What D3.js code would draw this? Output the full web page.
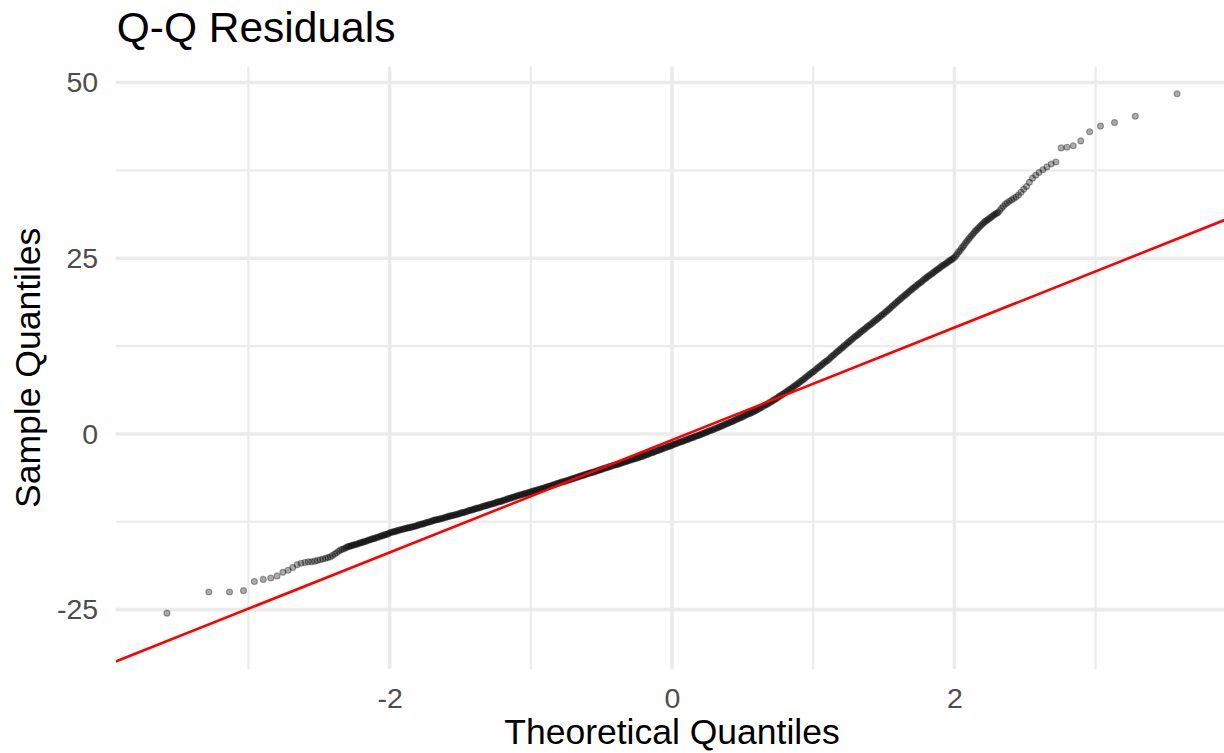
<!DOCTYPE html>
<html>
<head>
<meta charset="utf-8">
<script src="https://cdn.jsdelivr.net/npm/d3@7"></script>
<style>
  body { margin: 0; background: #ffffff; }
  svg { display: block; }
  text { font-family: "Liberation Sans", Arial, Helvetica, sans-serif; }
</style>
</head>
<body>
<svg id="chart" width="1224" height="753"></svg>
<script>
// Lower tail of the normal Q-Q plot: one entry per ordered residual
const lowerTailTheo = [-3.577,-3.281,-3.134,-3.035,-2.958,-2.895,-2.842,-2.797,-2.756,-2.719,
  -2.686,-2.655,-2.627,-2.600,-2.576,-2.553,-2.531,-2.511,-2.491,-2.472,
  -2.454,-2.437,-2.420,-2.405,-2.389,-2.375,-2.361,-2.347,-2.334,-2.321,-2.309];
const lowerTailSample = [-25.5,-22.5,-22.5,-22.3,-21.0,-20.7,-20.5,-20.2,-19.7,-19.4,
  -19.0,-18.6,-18.4,-18.3,-18.2,-18.2,-18.1,-18.0,-17.9,-17.8,
  -17.7,-17.6,-17.5,-17.3,-17.1,-16.9,-16.7,-16.5,-16.4,-16.3,-16.2];

// Body of the distribution (dense band of residuals)
const bodyTheo = [
  -2.30,-2.29,-2.28,-2.27,-2.26,-2.25,-2.24,-2.23,-2.22,-2.21,
  -2.20,-2.19,-2.18,-2.17,-2.16,-2.15,-2.14,-2.13,-2.12,-2.11,
  -2.10,-2.09,-2.08,-2.07,-2.06,-2.05,-2.04,-2.03,-2.02,-2.01,
  -2.00,-1.99,-1.98,-1.97,-1.96,-1.95,-1.94,-1.93,-1.92,-1.91,
  -1.90,-1.89,-1.88,-1.87,-1.86,-1.85,-1.84,-1.83,-1.82,-1.81,
  -1.80,-1.79,-1.78,-1.77,-1.76,-1.75,-1.74,-1.73,-1.72,-1.71,
  -1.70,-1.69,-1.68,-1.67,-1.66,-1.65,-1.64,-1.63,-1.62,-1.61,
  -1.60,-1.59,-1.58,-1.57,-1.56,-1.55,-1.54,-1.53,-1.52,-1.51,
  -1.50,-1.49,-1.48,-1.47,-1.46,-1.45,-1.44,-1.43,-1.42,-1.41,
  -1.40,-1.39,-1.38,-1.37,-1.36,-1.35,-1.34,-1.33,-1.32,-1.31,
  -1.30,-1.29,-1.28,-1.27,-1.26,-1.25,-1.24,-1.23,-1.22,-1.21,
  -1.20,-1.19,-1.18,-1.17,-1.16,-1.15,-1.14,-1.13,-1.12,-1.11,
  -1.10,-1.09,-1.08,-1.07,-1.06,-1.05,-1.04,-1.03,-1.02,-1.01,
  -1.00,-0.99,-0.98,-0.97,-0.96,-0.95,-0.94,-0.93,-0.92,-0.91,
  -0.90,-0.89,-0.88,-0.87,-0.86,-0.85,-0.84,-0.83,-0.82,-0.81,
  -0.80,-0.79,-0.78,-0.77,-0.76,-0.75,-0.74,-0.73,-0.72,-0.71,
  -0.70,-0.69,-0.68,-0.67,-0.66,-0.65,-0.64,-0.63,-0.62,-0.61,
  -0.60,-0.59,-0.58,-0.57,-0.56,-0.55,-0.54,-0.53,-0.52,-0.51,
  -0.50,-0.49,-0.48,-0.47,-0.46,-0.45,-0.44,-0.43,-0.42,-0.41,
  -0.40,-0.39,-0.38,-0.37,-0.36,-0.35,-0.34,-0.33,-0.32,-0.31,
  -0.30,-0.29,-0.28,-0.27,-0.26,-0.25,-0.24,-0.23,-0.22,-0.21,
  -0.20,-0.19,-0.18,-0.17,-0.16,-0.15,-0.14,-0.13,-0.12,-0.11,
  -0.10,-0.09,-0.08,-0.07,-0.06,-0.05,-0.04,-0.03,-0.02,-0.01,
  0.00,0.01,0.02,0.03,0.04,0.05,0.06,0.07,0.08,0.09,
  0.10,0.11,0.12,0.13,0.14,0.15,0.16,0.17,0.18,0.19,
  0.20,0.21,0.22,0.23,0.24,0.25,0.26,0.27,0.28,0.29,
  0.30,0.31,0.32,0.33,0.34,0.35,0.36,0.37,0.38,0.39,
  0.40,0.41,0.42,0.43,0.44,0.45,0.46,0.47,0.48,0.49,
  0.50,0.51,0.52,0.53,0.54,0.55,0.56,0.57,0.58,0.59,
  0.60,0.61,0.62,0.63,0.64,0.65,0.66,0.67,0.68,0.69,
  0.70,0.71,0.72,0.73,0.74,0.75,0.76,0.77,0.78,0.79,
  0.80,0.81,0.82,0.83,0.84,0.85,0.86,0.87,0.88,0.89,
  0.90,0.91,0.92,0.93,0.94,0.95,0.96,0.97,0.98,0.99,
  1.00,1.01,1.02,1.03,1.04,1.05,1.06,1.07,1.08,1.09,
  1.10,1.11,1.12,1.13,1.14,1.15,1.16,1.17,1.18,1.19,
  1.20,1.21,1.22,1.23,1.24,1.25,1.26,1.27,1.28,1.29,
  1.30,1.31,1.32,1.33,1.34,1.35,1.36,1.37,1.38,1.39,
  1.40,1.41,1.42,1.43,1.44,1.45,1.46,1.47,1.48,1.49,
  1.50,1.51,1.52,1.53,1.54,1.55,1.56,1.57,1.58,1.59,
  1.60,1.61,1.62,1.63,1.64,1.65,1.66,1.67,1.68,1.69,
  1.70,1.71,1.72,1.73,1.74,1.75,1.76,1.77,1.78,1.79,
  1.80,1.81,1.82,1.83,1.84,1.85,1.86,1.87,1.88,1.89,
  1.90,1.91,1.92,1.93,1.94,1.95,1.96,1.97,1.98,1.99,
  2.00,2.01,2.02,2.03,2.04,2.05,2.06,2.07,2.08,2.09,
  2.10,2.11,2.12,2.13,2.14,2.15,2.16,2.17,2.18,2.19,
  2.20,2.21,2.22,2.23,2.24,2.25,2.26,2.27,2.28,2.29,
  2.30];
const bodySample = [
  -16.1,-16.0,-16.0,-15.9,-15.8,-15.8,-15.7,-15.7,-15.6,-15.5,
  -15.5,-15.4,-15.3,-15.3,-15.2,-15.1,-15.1,-15.0,-14.9,-14.9,
  -14.8,-14.7,-14.7,-14.6,-14.5,-14.5,-14.4,-14.3,-14.3,-14.2,
  -14.1,-14.0,-14.0,-13.9,-13.9,-13.8,-13.7,-13.7,-13.6,-13.6,
  -13.5,-13.5,-13.4,-13.4,-13.3,-13.3,-13.2,-13.2,-13.1,-13.1,
  -13.0,-12.9,-12.9,-12.8,-12.8,-12.7,-12.6,-12.6,-12.5,-12.5,
  -12.4,-12.3,-12.3,-12.2,-12.2,-12.1,-12.1,-12.0,-12.0,-11.9,
  -11.85,-11.8,-11.7,-11.7,-11.6,-11.6,-11.5,-11.5,-11.4,-11.4,
  -11.3,-11.2,-11.2,-11.1,-11.1,-11.0,-10.9,-10.9,-10.8,-10.8,
  -10.7,-10.6,-10.6,-10.5,-10.5,-10.4,-10.3,-10.3,-10.2,-10.2,
  -10.1,-10.0,-10.0,-9.9,-9.9,-9.8,-9.7,-9.7,-9.6,-9.6,
  -9.5,-9.4,-9.4,-9.3,-9.2,-9.2,-9.1,-9.0,-9.0,-8.9,
  -8.85,-8.8,-8.7,-8.7,-8.6,-8.55,-8.5,-8.4,-8.4,-8.3,
  -8.25,-8.2,-8.1,-8.1,-8.0,-7.95,-7.9,-7.8,-7.8,-7.7,
  -7.65,-7.6,-7.5,-7.45,-7.4,-7.3,-7.25,-7.2,-7.1,-7.05,
  -7.0,-6.9,-6.85,-6.8,-6.75,-6.7,-6.6,-6.55,-6.5,-6.4,
  -6.35,-6.3,-6.2,-6.15,-6.1,-6.0,-5.95,-5.9,-5.8,-5.75,
  -5.7,-5.6,-5.55,-5.5,-5.45,-5.4,-5.3,-5.25,-5.2,-5.1,
  -5.05,-5.0,-4.9,-4.85,-4.8,-4.7,-4.65,-4.6,-4.5,-4.45,
  -4.4,-4.35,-4.3,-4.2,-4.15,-4.1,-4.0,-3.95,-3.9,-3.8,
  -3.75,-3.7,-3.6,-3.55,-3.5,-3.45,-3.4,-3.3,-3.25,-3.2,
  -3.1,-3.0,-2.95,-2.9,-2.8,-2.7,-2.65,-2.6,-2.5,-2.4,
  -2.35,-2.3,-2.2,-2.1,-2.05,-2.0,-1.9,-1.8,-1.75,-1.7,
  -1.6,-1.5,-1.45,-1.4,-1.3,-1.2,-1.15,-1.1,-1.0,-0.9,
  -0.85,-0.8,-0.7,-0.6,-0.55,-0.5,-0.4,-0.3,-0.25,-0.2,
  -0.1,0.0,0.05,0.15,0.2,0.3,0.4,0.45,0.55,0.6,
  0.7,0.8,0.85,0.95,1.05,1.1,1.2,1.3,1.4,1.45,
  1.55,1.65,1.75,1.8,1.9,2.0,2.1,2.2,2.25,2.35,
  2.45,2.55,2.65,2.75,2.85,2.9,3.0,3.1,3.2,3.3,
  3.4,3.5,3.65,3.75,3.85,4.0,4.1,4.2,4.3,4.45,
  4.55,4.7,4.8,4.95,5.05,5.2,5.35,5.45,5.6,5.7,
  5.85,6.0,6.15,6.3,6.4,6.55,6.7,6.85,7.0,7.15,
  7.3,7.45,7.6,7.75,7.9,8.1,8.25,8.4,8.55,8.7,
  8.85,9.0,9.2,9.35,9.5,9.65,9.8,10.0,10.15,10.3,
  10.45,10.6,10.8,11.0,11.15,11.3,11.5,11.7,11.85,12.0,
  12.2,12.35,12.55,12.7,12.9,13.05,13.2,13.4,13.55,13.75,
  13.9,14.05,14.2,14.4,14.55,14.7,14.85,15.0,15.2,15.35,
  15.5,15.65,15.8,16.0,16.15,16.3,16.45,16.6,16.8,16.95,
  17.1,17.3,17.45,17.65,17.8,18.0,18.2,18.35,18.55,18.7,
  18.9,19.05,19.25,19.4,19.6,19.75,19.9,20.1,20.25,20.45,
  20.6,20.75,20.9,21.1,21.25,21.4,21.55,21.7,21.9,22.05,
  22.2,22.35,22.5,22.65,22.8,22.95,23.1,23.25,23.4,23.55,
  23.7,23.85,24.0,24.1,24.25,24.4,24.55,24.7,24.8,24.95,
  25.1,25.35,25.6,25.9,26.1,26.4,26.65,26.9,27.2,27.45,
  27.7,27.95,28.2,28.4,28.65,28.9,29.1,29.3,29.5,29.7,
  29.9,30.1,30.25,30.4,30.55,30.7,30.85,31.0,31.15,31.3,
  31.4];

// Upper tail: the largest residuals, plotted individually
const upperTailTheo = [2.309,2.321,2.334,2.347,2.361,2.375,2.389,2.405,2.420,2.437,
  2.454,2.472,2.491,2.511,2.531,2.553,2.576,2.600,2.627,2.655,
  2.686,2.719,2.756,2.797,2.842,2.895,2.958,3.035,3.134,3.281,3.577];
const upperTailSample = [31.5,31.8,32.1,32.4,32.7,32.9,33.1,33.3,33.5,33.7,
  34.0,34.4,34.8,35.2,35.8,36.4,36.8,37.2,37.6,38.0,
  38.4,38.7,40.7,40.8,41.0,41.7,43.0,43.8,44.3,45.2,48.4];

// Reference line through the quartiles
const lineIntercept = -0.87;
const lineSlope = 8.0;

// Axis ticks
const xMajorTicks = [-2, 0, 2];
const xMinorTicks = [-3, -1, 1, 3];
const yMajorTicks = [-25, 0, 25, 50];
const yMinorTicks = [-12.5, 12.5, 37.5];

const titleText = "Q-Q Residuals";
const xTitleText = "Theoretical Quantiles";
const yTitleText = "Sample Quantiles";

// ---- layout ----
const width = 1224, height = 753;
const panel = { left: 115.7, right: 1228.3, top: 66.6, bottom: 669 };

const x = d3.scaleLinear().domain([-3.94, 3.94]).range([panel.left, panel.right]);
const y = d3.scaleLinear().domain([-33.45, 52.27]).range([panel.bottom, panel.top]);

const svg = d3.select("#chart");

svg.append("defs").append("clipPath").attr("id", "panel-clip")
  .append("rect")
  .attr("x", panel.left).attr("y", panel.top)
  .attr("width", panel.right - panel.left)
  .attr("height", panel.bottom - panel.top);

// grid
const grid = svg.append("g").attr("class", "grid");
grid.selectAll("line.xminor").data(xMinorTicks).join("line")
  .attr("x1", d => x(d)).attr("x2", d => x(d))
  .attr("y1", panel.top).attr("y2", panel.bottom)
  .attr("stroke", "#ebebeb").attr("stroke-width", 2.2);
grid.selectAll("line.yminor").data(yMinorTicks).join("line")
  .attr("x1", panel.left).attr("x2", panel.right)
  .attr("y1", d => y(d)).attr("y2", d => y(d))
  .attr("stroke", "#ebebeb").attr("stroke-width", 2.2);
grid.selectAll("line.xmajor").data(xMajorTicks).join("line")
  .attr("x1", d => x(d)).attr("x2", d => x(d))
  .attr("y1", panel.top).attr("y2", panel.bottom)
  .attr("stroke", "#ebebeb").attr("stroke-width", 3.6);
grid.selectAll("line.ymajor").data(yMajorTicks).join("line")
  .attr("x1", panel.left).attr("x2", panel.right)
  .attr("y1", d => y(d)).attr("y2", d => y(d))
  .attr("stroke", "#ebebeb").attr("stroke-width", 3.6);

// points
const points = [];
[[lowerTailTheo, lowerTailSample], [bodyTheo, bodySample], [upperTailTheo, upperTailSample]]
  .forEach(([tq, sq]) => tq.forEach((t, i) => points.push({ t, s: sq[i] })));

svg.append("g").attr("clip-path", "url(#panel-clip)")
  .selectAll("circle").data(points).join("circle")
  .attr("cx", d => x(d.t))
  .attr("cy", d => y(d.s))
  .attr("r", 3.0)
  .attr("fill", "#000").attr("fill-opacity", 0.33)
  .attr("stroke", "#000").attr("stroke-opacity", 0.33).attr("stroke-width", 1.1);

// reference line
const xd = x.domain();
svg.append("path").attr("clip-path", "url(#panel-clip)")
  .datum(xd.map(t => ({ t, s: lineIntercept + lineSlope * t })))
  .attr("d", d3.line().x(d => x(d.t)).y(d => y(d.s)))
  .attr("fill", "none").attr("stroke", "#ff0000").attr("stroke-width", 2.6);

// axes
const xAxis = svg.append("g")
  .attr("transform", `translate(0,${panel.bottom})`)
  .call(d3.axisBottom(x).tickValues(xMajorTicks).tickSize(0).tickPadding(18.5)
    .tickFormat(d => String(d)));
const yAxis = svg.append("g")
  .attr("transform", `translate(${panel.left},0)`)
  .call(d3.axisLeft(y).tickValues(yMajorTicks).tickSize(0).tickPadding(17.5)
    .tickFormat(d => String(d)));
[xAxis, yAxis].forEach(g => {
  g.select(".domain").remove();
  g.selectAll("text")
    .style("font-family", "'Liberation Sans', Arial, Helvetica, sans-serif")
    .style("font-size", "28.5px")
    .attr("fill", "#4d4d4d");
});

// titles
svg.append("text")
  .attr("x", panel.left + 1).attr("y", 41.5)
  .style("font-size", "42.5px").attr("fill", "#000")
  .text(titleText);

svg.append("text")
  .attr("x", (panel.left + panel.right) / 2).attr("y", 744)
  .attr("text-anchor", "middle")
  .style("font-size", "35.5px").attr("fill", "#000")
  .text(xTitleText);

svg.append("text")
  .attr("transform", `translate(40,${(panel.top + panel.bottom) / 2}) rotate(-90)`)
  .attr("text-anchor", "middle")
  .style("font-size", "35.5px").attr("fill", "#000")
  .text(yTitleText);
</script>
</body>
</html>
